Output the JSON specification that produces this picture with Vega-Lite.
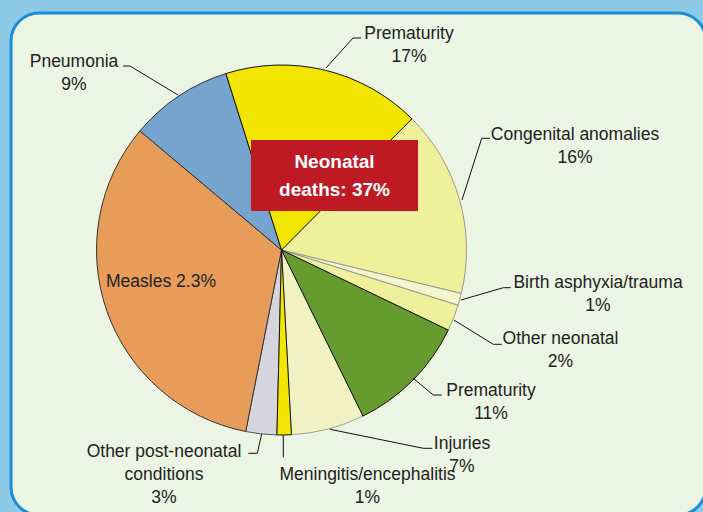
{
  "$schema": "https://vega.github.io/schema/vega-lite/v6.json",
  "width": 695,
  "height": 502,
  "padding": {"left": 11, "top": 13, "right": -3, "bottom": -3},
  "autosize": {"type": "pad"},
  "background": "#8dcae5",
  "view": {"fill": "#ecf4e3", "stroke": "#1a8cd8", "strokeWidth": 3, "cornerRadius": 28},
  "config": {
    "view": {"fill": "#ecf4e3", "stroke": "#1a8cd8", "strokeWidth": 3, "cornerRadius": 28},
    "text": {"font": "Liberation Sans", "fontSize": 17.5, "fill": "#222222", "align": "center", "baseline": "middle", "lineBreak": "\n", "lineHeight": 23},
    "rule": {"stroke": "#111111", "strokeWidth": 1}
  },
  "data": {
    "values": [
      {"order": 2, "cause": "Congenital anomalies", "value": 16.3, "label": "Congenital anomalies\n16%"},
      {"order": 3, "cause": "Birth asphyxia/trauma", "value": 1.05, "label": "Birth asphyxia/trauma\n1%"},
      {"order": 4, "cause": "Other neonatal", "value": 2.3, "label": "Other neonatal\n2%"},
      {"order": 6, "cause": "Injuries", "value": 6.4, "label": "Injuries\n7%"},
      {"order": 8, "cause": "Other post-neonatal conditions", "value": 2.7, "label": "Other post-neonatal\nconditions\n3%"},
      {"order": 9, "cause": "Measles", "value": 33.0, "label": "Measles 2.3%"},
      {"order": 10, "cause": "Pneumonia", "value": 9.0, "label": "Pneumonia\n9%"},
      {"order": 1, "cause": "Prematurity (neonatal, 17%)", "value": 17.3, "label": "Prematurity\n17%"},
      {"order": 5, "cause": "Prematurity (11%)", "value": 10.6, "label": "Prematurity\n11%"},
      {"order": 7, "cause": "Meningitis/encephalitis", "value": 1.25, "label": "Meningitis/encephalitis\n1%"}
    ]
  },
  "layer": [
    {
      "mark": {"type": "arc", "outerRadius": 185, "x": 270.5, "y": 237, "strokeWidth": 1},
      "encoding": {
        "theta": {"field": "value", "type": "quantitative", "stack": true, "scale": {"range": [-0.3054, 5.9778]}},
        "order": {"field": "order", "type": "quantitative"},
        "color": {"field": "order", "type": "nominal", "legend": null,
          "scale": {"domain": [1, 2, 3, 4, 5, 6, 7, 8, 9, 10],
            "range": ["#f2e500", "#eef09b", "#f3f5cc", "#eef09b", "#669b30", "#f0f2c4", "#f2e500", "#d6d4dd", "#e79c59", "#77a4cf"]}},
        "stroke": {"field": "order", "type": "nominal", "legend": null,
          "scale": {"domain": [1, 2, 3, 4, 5, 6, 7, 8, 9, 10],
            "range": ["#111111", "#9a9a90", "#9a9a90", "#9a9a90", "#111111", "#a0a098", "#111111", "#555555", "#333333", "#333333"]}}
      }
    },
    {"data": {"values": [{}]}, "mark": "rule", "encoding": {"x": {"value": 167}, "y": {"value": 82}, "x2": {"value": 119}, "y2": {"value": 53}}},
    {"data": {"values": [{}]}, "mark": "rule", "encoding": {"x": {"value": 119}, "y": {"value": 53}, "x2": {"value": 112}, "y2": {"value": 53}}},
    {"data": {"values": [{}]}, "mark": "rule", "encoding": {"x": {"value": 315}, "y": {"value": 55}, "x2": {"value": 342}, "y2": {"value": 25}}},
    {"data": {"values": [{}]}, "mark": "rule", "encoding": {"x": {"value": 342}, "y": {"value": 25}, "x2": {"value": 350}, "y2": {"value": 25}}},
    {"data": {"values": [{}]}, "mark": "rule", "encoding": {"x": {"value": 451}, "y": {"value": 187}, "x2": {"value": 470.7}, "y2": {"value": 125.3}}},
    {"data": {"values": [{}]}, "mark": "rule", "encoding": {"x": {"value": 470.7}, "y": {"value": 125.3}, "x2": {"value": 479}, "y2": {"value": 125.3}}},
    {"data": {"values": [{}]}, "mark": "rule", "encoding": {"x": {"value": 450}, "y": {"value": 287}, "x2": {"value": 492.3}, "y2": {"value": 274.7}}},
    {"data": {"values": [{}]}, "mark": "rule", "encoding": {"x": {"value": 492.3}, "y": {"value": 274.7}, "x2": {"value": 499.7}, "y2": {"value": 274.7}}},
    {"data": {"values": [{}]}, "mark": "rule", "encoding": {"x": {"value": 442.8}, "y": {"value": 307}, "x2": {"value": 482.3}, "y2": {"value": 331.3}}},
    {"data": {"values": [{}]}, "mark": "rule", "encoding": {"x": {"value": 482.3}, "y": {"value": 331.3}, "x2": {"value": 490.7}, "y2": {"value": 331.3}}},
    {"data": {"values": [{}]}, "mark": "rule", "encoding": {"x": {"value": 402.3}, "y": {"value": 365.3}, "x2": {"value": 422.3}, "y2": {"value": 382}}},
    {"data": {"values": [{}]}, "mark": "rule", "encoding": {"x": {"value": 422.3}, "y": {"value": 382}, "x2": {"value": 430.7}, "y2": {"value": 382}}},
    {"data": {"values": [{}]}, "mark": "rule", "encoding": {"x": {"value": 319}, "y": {"value": 416.3}, "x2": {"value": 412.3}, "y2": {"value": 435.3}}},
    {"data": {"values": [{}]}, "mark": "rule", "encoding": {"x": {"value": 412.3}, "y": {"value": 435.3}, "x2": {"value": 421.3}, "y2": {"value": 435.3}}},
    {"data": {"values": [{}]}, "mark": "rule", "encoding": {"x": {"value": 272.3}, "y": {"value": 422}, "x2": {"value": 272.3}, "y2": {"value": 444.3}}},
    {"data": {"values": [{}]}, "mark": "rule", "encoding": {"x": {"value": 250.7}, "y": {"value": 421}, "x2": {"value": 246.3}, "y2": {"value": 440.3}}},
    {"data": {"values": [{}]}, "mark": "rule", "encoding": {"x": {"value": 246.3}, "y": {"value": 440.3}, "x2": {"value": 237.3}, "y2": {"value": 440.3}}},
    {"transform": [{"filter": "datum.order == 1"}], "mark": {"type": "text", "x": 398, "y": 21}, "encoding": {"text": {"field": "label"}}},
    {"transform": [{"filter": "datum.order == 2"}], "mark": {"type": "text", "x": 564, "y": 122}, "encoding": {"text": {"field": "label"}}},
    {"transform": [{"filter": "datum.order == 3"}], "mark": {"type": "text", "x": 587, "y": 270}, "encoding": {"text": {"field": "label"}}},
    {"transform": [{"filter": "datum.order == 4"}], "mark": {"type": "text", "x": 549.5, "y": 325.5}, "encoding": {"text": {"field": "label"}}},
    {"transform": [{"filter": "datum.order == 5"}], "mark": {"type": "text", "x": 480, "y": 377.5}, "encoding": {"text": {"field": "label"}}},
    {"transform": [{"filter": "datum.order == 6"}], "mark": {"type": "text", "x": 451, "y": 430.5}, "encoding": {"text": {"field": "label"}}},
    {"transform": [{"filter": "datum.order == 7"}], "mark": {"type": "text", "x": 356.5, "y": 462}, "encoding": {"text": {"field": "label"}}},
    {"transform": [{"filter": "datum.order == 8"}], "mark": {"type": "text", "x": 153, "y": 439}, "encoding": {"text": {"field": "label"}}},
    {"transform": [{"filter": "datum.order == 9"}], "mark": {"type": "text", "x": 150, "y": 269}, "encoding": {"text": {"field": "label"}}},
    {"transform": [{"filter": "datum.order == 10"}], "mark": {"type": "text", "x": 63, "y": 48.5}, "encoding": {"text": {"field": "label"}}},
    {
      "data": {"values": [{"note": "Neonatal\ndeaths: 37%"}]},
      "mark": {"type": "rect", "x": 240, "x2": 407, "y": 127, "y2": 198, "fill": "#be1a24"},
      "encoding": {}
    },
    {
      "data": {"values": [{"note": "Neonatal\ndeaths: 37%"}]},
      "mark": {"type": "text", "x": 323.5, "y": 149, "fill": "#ffffff", "fontWeight": "bold", "fontSize": 19, "lineHeight": 28},
      "encoding": {"text": {"field": "note"}}
    }
  ],
  "resolve": {"scale": {"color": "independent", "stroke": "independent"}}
}
